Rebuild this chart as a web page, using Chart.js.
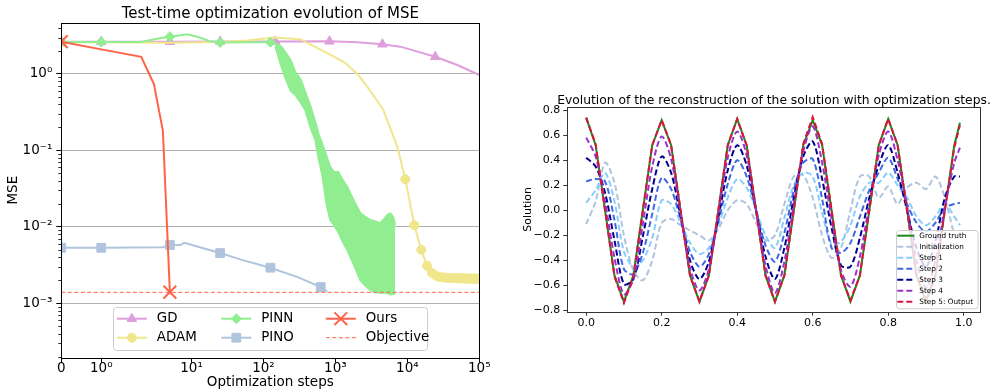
<!DOCTYPE html>
<html>
<head>
<meta charset="utf-8">
<script src="https://cdn.jsdelivr.net/npm/chart.js@4.4.0/dist/chart.umd.min.js"></script>
<style>
html,body{margin:0;padding:0;background:#fff;}
#wrap{position:relative;width:990px;height:391px;}
.box{position:absolute;top:0;width:495px;height:391px;}
#left{left:0}
#right{left:495px}
</style>
</head>
<body>
<div id="wrap">
 <div class="box" id="left"><canvas id="mse"></canvas></div>
 <div class="box" id="right"><canvas id="sol"></canvas></div>
</div>
<script>
// ===== LEFT: MSE vs optimization steps =====
const stepTicks=[0,1,10,100,1000,10000,100000];
const stepTickLabels=["0","10⁰","10¹","10²","10³","10⁴","10⁵"];
const mseTicks=[1e-3,1e-2,1e-1,1];
const mseTickLabels=["10⁻³","10⁻²","10⁻¹","10⁰"];

const gdSteps=[0,1,5,25,146,826,2000,4500,7980,24440,49440,100000];
const gdMse=[2.65,2.65,2.65,2.66,2.67,2.68,2.6,2.45,2.28,1.68,1.31,0.97];
const gdMarks=[0,1,2,3,4,5,7,9];

const adamSteps=[0,1,5,25,60,137,325,771,1371,2080,3055,4622,7245,
 9375,12500,15625,18750,21875,25000,28125,31250,34375,37500,
 40625,43750,46875,50000,53125,56250,59375,62500,65625,68750,
 71875,75000,78125,81250,84375,87500,90625,93750,96875,100000];
const adamMse=[2.6,2.6,2.57,2.62,2.75,3.0,2.85,1.87,1.4,0.97,0.6,0.34,0.112,
 0.042,0.0105,0.0050,0.0031,0.0025,0.0023,0.0022,0.00218,0.00216,0.00215,
 0.00214,0.00213,0.00213,0.00212,0.00212,0.00212,0.00211,0.00211,0.00211,0.00211,
 0.0021,0.0021,0.0021,0.0021,0.0021,0.0021,0.0021,0.0021,0.0021,0.0021];
const adamMarks=[0,13,14,15,16,17,18,19,20,21,22,23,24,25,26,27,28,29,30,31,32,33,34,35,36,37,38,39,40,41,42];

const pinnSteps=[0,1,2,3.3,5,8.7,13,18,25,50,125,146];
const pinnMse=[2.62,2.62,2.62,2.9,3.08,3.3,3.0,2.68,2.58,2.6,2.6,2.5];
const pinnMarks=[0,1,4,8,10];
const pinnBandSteps=[146,175,201,240,277,330,381,450,525,590,657,750,849,960,1096,1250,1462,1800,2218,2600,3055,3600,4206,4700,5260,5800,6370,6790];
const pinnBandHigh=[2.5,2.3,1.94,1.5,1.06,0.85,0.581,0.38,0.235,0.16,0.121,0.085,0.0607,0.052,0.0521,0.042,0.0332,0.022,0.0152,0.0135,0.0123,0.0118,0.0112,0.0125,0.0143,0.0150,0.0134,0.0106];
const pinnBandLow=[2.3,1.3,0.886,0.6,0.531,0.42,0.338,0.2,0.137,0.075,0.0477,0.02,0.0123,0.0105,0.00855,0.0065,0.00497,0.0032,0.00201,0.0017,0.00149,0.0014,0.00136,0.00138,0.00136,0.0013,0.00132,0.00136];

const pinoSteps=[0,1,4,5,7,8,13,25,50,125,300,625,771];
const pinoMse=[0.00532,0.00532,0.0054,0.00578,0.0058,0.0062,0.0054,0.00454,0.0037,0.00292,0.0022,0.00163,0.00142];
const pinoMarks=[0,1,3,7,9,11];

const oursSteps=[0,1,2,3,4,5];
const oursMse=[2.65,2.1,1.68,0.74,0.18,0.0014];
const oursMarks=[0,5];

const objectiveSteps=[0,100000];
const objectiveMse=[0.00139,0.00139];

// ===== RIGHT: reconstruction of the solution =====
const solXTicks=[0,0.2,0.4,0.6,0.8,1.0];
const solXLabels=["0.0","0.2","0.4","0.6","0.8","1.0"];
const solYTicks=[-0.8,-0.6,-0.4,-0.2,0,0.2,0.4,0.6,0.8];
const solYLabels=["−0.8","−0.6","−0.4","−0.2","0.0","0.2","0.4","0.6","0.8"];

const xPos=[0,0.025,0.05,0.075,0.1,0.125,0.15,0.175,0.2,0.225,0.25,0.275,0.3,0.325,0.35,0.375,0.4,0.425,0.45,0.475,
 0.5,0.525,0.55,0.575,0.6,0.625,0.65,0.675,0.7,0.725,0.75,0.775,0.8,0.825,0.85,0.875,0.9,0.925,0.95,0.975,0.99];
const groundTruth=[0.74,0.52,0.0,-0.52,-0.73,-0.52,0.0,0.52,0.72,0.52,0.0,-0.52,-0.73,-0.52,0.0,0.52,0.73,0.52,0.0,-0.52,
 -0.73,-0.52,0.0,0.52,0.72,0.52,0.0,-0.52,-0.73,-0.52,0.0,0.52,0.73,0.52,0.0,-0.52,-0.73,-0.52,0.0,0.52,0.70];
const initialization=[-0.11,0.07,0.38,0.22,-0.20,-0.48,-0.56,-0.40,-0.10,-0.07,-0.12,-0.16,-0.20,-0.24,-0.15,0.00,0.08,0.05,-0.10,-0.24,
 -0.20,0.05,0.27,0.28,0.10,-0.20,-0.38,-0.30,0.00,0.27,0.27,0.10,0.19,0.05,0.18,0.22,0.17,0.27,0.10,-0.20,-0.35];
const step1=[0.06,0.16,0.30,0.07,-0.33,-0.45,-0.40,-0.22,0.08,0.05,-0.10,-0.26,-0.35,-0.30,-0.12,0.10,0.25,0.18,0.00,-0.20,
 -0.30,-0.06,0.20,0.30,0.27,-0.02,-0.27,-0.25,-0.12,0.11,0.22,0.22,0.30,0.20,0.10,-0.05,-0.12,-0.05,0.05,-0.05,-0.12];
const step2=[0.23,0.25,0.23,-0.08,-0.47,-0.51,-0.34,-0.03,0.26,0.17,-0.07,-0.33,-0.45,-0.35,-0.09,0.21,0.40,0.27,0.00,-0.28,
 -0.41,-0.18,0.16,0.38,0.41,0.09,-0.30,-0.34,-0.26,-0.05,0.16,0.30,0.42,0.25,0.05,-0.10,-0.17,-0.10,0.02,0.05,0.06];
const step3=[0.42,0.35,0.14,-0.24,-0.59,-0.55,-0.21,0.17,0.43,0.30,-0.05,-0.40,-0.55,-0.41,-0.06,0.32,0.52,0.36,0.00,-0.37,
 -0.55,-0.30,0.10,0.43,0.55,0.25,-0.14,-0.44,-0.45,-0.22,0.10,0.36,0.52,0.30,0.00,-0.30,-0.45,-0.25,0.10,0.27,0.27];
const step4=[0.58,0.43,0.07,-0.38,-0.67,-0.55,-0.11,0.35,0.59,0.41,-0.02,-0.46,-0.64,-0.47,-0.03,0.42,0.63,0.44,0.00,-0.44,
 -0.66,-0.41,0.05,0.47,0.67,0.38,-0.07,-0.48,-0.61,-0.37,0.05,0.44,0.63,0.40,0.03,-0.40,-0.62,-0.40,0.02,0.38,0.50];
const step5=[0.74,0.53,0.0,-0.53,-0.74,-0.53,0.0,0.52,0.72,0.52,0.0,-0.52,-0.73,-0.52,0.0,0.52,0.73,0.52,0.0,-0.52,
 -0.73,-0.52,0.0,0.53,0.745,0.53,0.0,-0.52,-0.72,-0.52,0.0,0.52,0.73,0.52,0.0,-0.52,-0.72,-0.52,0.0,0.50,0.68];

// ===== helpers =====
Chart.defaults.font.family="'DejaVu Sans', sans-serif";
Chart.defaults.color="#000";

const pts=(xs,ys)=>xs.map((x,i)=>({x:x,y:ys[i]}));
const marks=(idx,r)=>c=>idx.includes(c.dataIndex)?r:0;

// symlog x axis (linthresh 2, linscale 1)
const LT=2, LS=1/(1-1/10);
const symlog=v=>v<=LT?v/LT*LS:LS+Math.log10(v/LT);
const symexp=u=>u<=LS?u/LS*LT:LT*Math.pow(10,u-LS);
class SymlogScale extends Chart.Scale{
 determineDataLimits(){this.min=this.options.min;this.max=this.options.max;}
 buildTicks(){return stepTicks.map(v=>({value:v}));}
 getLabelForValue(v){return String(v);}
 configure(){super.configure();this._u0=symlog(this.min);this._du=symlog(this.max)-this._u0;}
 getPixelForValue(v){return this.getPixelForDecimal((symlog(v)-this._u0)/this._du);}
 getValueForPixel(p){return symexp(this.getDecimalForPixel(p)*this._du+this._u0);}
}
SymlogScale.id="symlog";
SymlogScale.defaults={};
Chart.register(SymlogScale);

function shape(ctx,style,r,x,y,bw){
 if(Chart.helpers&&Chart.helpers.drawPoint){
  Chart.helpers.drawPoint(ctx,{pointStyle:style,radius:r,rotation:0,borderWidth:bw},x,y);
 }
}

// title centred over the plot area, like matplotlib
const areaTitle={
 id:"areaTitle",
 afterDraw(c,a,o){
  if(!o.text) return;
  const ca=c.chartArea, ctx=c.ctx;
  ctx.save();
  ctx.font=o.font;ctx.fillStyle="#000";ctx.textAlign="center";ctx.textBaseline="alphabetic";
  ctx.fillText(o.text,(ca.left+ca.right)/2,o.baseline);
  ctx.restore();
 }
};

const frame={
 id:"frame",
 afterDatasetsDraw(c,a,o){
  const {left,top,right,bottom}=c.chartArea, ctx=c.ctx;
  ctx.save();
  ctx.strokeStyle=o.color||"#000";ctx.lineWidth=1;
  ctx.strokeRect(Math.round(left)+0.5,Math.round(top)+0.5,Math.round(right-left),Math.round(bottom-top));
  ctx.restore();
 }
};

const minorTicks={
 id:"minorTicks",
 afterDraw(c,a,o){
  if(!o.on) return;
  const s=c.scales.y, ctx=c.ctx;
  ctx.save();ctx.strokeStyle="#000";ctx.lineWidth=0.8;
  [1e-4,1e-3,1e-2,1e-1,1].forEach(d=>{
   for(let m=2;m<=9;m++){
    const v=d*m;
    if(v<s.min||v>s.max) continue;
    const y=Math.round(s.getPixelForValue(v))+0.5;
    ctx.beginPath();ctx.moveTo(s.right-3,y);ctx.lineTo(s.right,y);ctx.stroke();
   }
  });
  ctx.restore();
 }
};

const boxLegend={
 id:"boxLegend",
 afterDraw(c,a,o){
  if(!o.entries) return;
  const ctx=c.ctx, ca=c.chartArea;
  const bx=o.anchor==="bottomCenter"?(ca.left+ca.right)/2-o.w/2:ca.right-o.gap-o.w;
  const by=ca.bottom-o.gap-o.h;
  ctx.save();
  ctx.beginPath();
  ctx.roundRect(Math.round(bx)+0.5,Math.round(by)+0.5,o.w,o.h,3);
  ctx.fillStyle="rgba(255,255,255,0.8)";ctx.fill();
  ctx.strokeStyle="#cccccc";ctx.lineWidth=1;ctx.stroke();
  o.entries.forEach((e,i)=>{
   const col=Math.floor(i/o.rows), row=i%o.rows;
   const hx=bx+o.pad+col*o.colW, hy=by+o.top+row*o.rowH;
   ctx.strokeStyle=e.color;ctx.lineWidth=e.width;ctx.setLineDash(e.dash||[]);
   ctx.beginPath();ctx.moveTo(hx,hy);ctx.lineTo(hx+o.handle,hy);ctx.stroke();
   ctx.setLineDash([]);
   if(e.pointStyle){
    ctx.fillStyle=e.color;ctx.strokeStyle=e.color;ctx.lineWidth=e.pointBorder||1;
    shape(ctx,e.pointStyle,e.radius,hx+o.handle/2,hy,e.pointBorder||1);
   }
   ctx.fillStyle="#000";ctx.font=o.font;ctx.textBaseline="middle";ctx.textAlign="left";
   ctx.fillText(e.label,hx+o.textOff,hy);
  });
  ctx.restore();
 }
};

// ===== left chart =====
const GD="#DDA0DD", ADAM="#F0E68C", PINN="#90EE90", PINO="#B0C4DE", OURS="#FF6347";
const line=(label,xs,ys,color,extra)=>Object.assign({label:label,data:pts(xs,ys),borderColor:color,backgroundColor:color,
 pointBorderColor:color,pointBackgroundColor:color,borderWidth:2,pointRadius:0,pointBorderWidth:1,fill:false,tension:0,clip:0},extra||{});

const mseData=[
 line("GD",gdSteps,gdMse,GD,{pointStyle:"triangle",pointRadius:marks(gdMarks,5.5),order:9}),
 line("ADAM",adamSteps,adamMse,ADAM,{pointStyle:"circle",pointRadius:marks(adamMarks,4.5),order:8}),
 line("PINN",pinnSteps,pinnMse,PINN,{pointStyle:"rectRot",pointRadius:marks(pinnMarks,5),order:7}),
 line("",pinnBandSteps,pinnBandHigh,PINN,{order:6}),
 line("",pinnBandSteps,pinnBandLow,PINN,{fill:"-1",order:5}),
 line("PINO",pinoSteps,pinoMse,PINO,{pointStyle:"rect",pointRadius:marks(pinoMarks,6.2),order:4}),
 line("Ours",oursSteps,oursMse,OURS,{pointStyle:"crossRot",pointRadius:marks(oursMarks,9),pointBorderWidth:2,order:3}),
 line("Objective",objectiveSteps,objectiveMse,OURS,{borderWidth:1,borderDash:[4,2.5],order:2})
];

new Chart(document.getElementById("mse"),{
 type:"line",
 data:{datasets:mseData},
 plugins:[frame,minorTicks,boxLegend,areaTitle],
 options:{
  responsive:true,maintainAspectRatio:false,animation:false,devicePixelRatio:1,
  events:[],
  layout:{padding:{left:0,right:15.7,top:22.7,bottom:0}},
  plugins:{
   legend:{display:false},tooltip:{enabled:false},title:{display:false},
   areaTitle:{text:"Test-time optimization evolution of MSE",font:"15px 'DejaVu Sans'",baseline:17.5},
   frame:{color:"#000"},
   minorTicks:{on:true},
   boxLegend:{
    anchor:"bottomCenter",w:314,h:43,gap:7.5,rows:2,colW:104.5,rowH:19,top:11.5,pad:3.5,handle:30,textOff:40,
    font:"13.4px 'DejaVu Sans'",
    entries:[
     {label:"GD",color:GD,width:2,pointStyle:"triangle",radius:5.5},
     {label:"ADAM",color:ADAM,width:2,pointStyle:"circle",radius:4.5},
     {label:"PINN",color:PINN,width:2,pointStyle:"rectRot",radius:5},
     {label:"PINO",color:PINO,width:2,pointStyle:"rect",radius:6.2},
     {label:"Ours",color:OURS,width:2,pointStyle:"crossRot",radius:9,pointBorder:2},
     {label:"Objective",color:OURS,width:1,dash:[4,2.5]}
    ]
   }
  },
  scales:{
   x:{type:"symlog",min:0,max:100000,
    grid:{display:true,drawOnChartArea:false,drawTicks:true,tickLength:5,tickColor:"#000"},
    border:{display:false},
    ticks:{font:{size:13.5},padding:-2,maxRotation:0,autoSkip:false,callback:(v,i)=>stepTickLabels[i]},
    title:{display:true,text:"Optimization steps",font:{size:13.5},padding:{top:0,bottom:0}},
    afterFit:s=>{s.height=33.3;}
   },
   y:{type:"logarithmic",min:1.94e-4,max:4.69,
    afterBuildTicks:s=>{s.ticks=mseTicks.map(v=>({value:v}));},
    grid:{color:"#b0b0b0",lineWidth:1,drawTicks:true,tickLength:5,tickColor:"#000"},
    border:{display:false},
    ticks:{font:{size:13.5},padding:4,autoSkip:false,callback:(v,i)=>mseTickLabels[i]},
    title:{display:true,text:"MSE",font:{size:13.5},padding:{top:5.5,bottom:0}},
    afterFit:s=>{s.width=61.3;}
   }
  }
 }
});

// ===== right chart =====
const dashed=(label,ys,color,order)=>({label:label,data:pts(xPos,ys),borderColor:color,backgroundColor:color,
 borderWidth:2,borderDash:[6,3],pointRadius:0,fill:false,tension:0.3,order:order});

const solData=[
 {label:"Ground truth",data:pts(xPos,groundTruth),borderColor:"#1a8a1a",borderWidth:2,pointRadius:0,fill:false,tension:0,order:9},
 dashed("Initialization",initialization,"#B0C4DE",8),
 dashed("Step 1",step1,"#87CEFA",7),
 dashed("Step 2",step2,"#4169E1",6),
 dashed("Step 3",step3,"#00008B",5),
 dashed("Step 4",step4,"#9932CC",4),
 Object.assign(dashed("Step 5: Output",step5,"#DC143C",3),{tension:0})
];

new Chart(document.getElementById("sol"),{
 type:"line",
 data:{datasets:solData},
 plugins:[frame,boxLegend,areaTitle],
 options:{
  responsive:true,maintainAspectRatio:false,animation:false,devicePixelRatio:1,
  events:[],
  layout:{padding:{left:0,right:9.3,top:107,bottom:0}},
  plugins:{
   legend:{display:false},tooltip:{enabled:false},title:{display:false},
   areaTitle:{text:"Evolution of the reconstruction of the solution with optimization steps.",font:"12.3px 'DejaVu Sans'",baseline:104},
   frame:{color:"#333"},
   boxLegend:{
    anchor:"bottomRight",w:81.6,h:78.3,gap:3.4,rows:7,colW:0,rowH:11,top:5.7,pad:1.6,handle:17,textOff:22,
    font:"7.3px 'DejaVu Sans'",
    entries:solData.map(d=>({label:d.label,color:d.borderColor,width:2,dash:d.borderDash}))
   }
  },
  scales:{
   x:{type:"linear",min:-0.05,max:1.045,
    afterBuildTicks:s=>{s.ticks=solXTicks.map(v=>({value:v}));},
    grid:{display:true,drawOnChartArea:false,drawTicks:true,tickLength:4,tickColor:"#333"},
    border:{display:false},
    ticks:{font:{size:11},padding:0.5,maxRotation:0,autoSkip:false,callback:(v,i)=>solXLabels[i]},
    afterFit:s=>{s.height=79.3;}
   },
   y:{type:"linear",min:-0.81,max:0.825,
    afterBuildTicks:s=>{s.ticks=solYTicks.map(v=>({value:v}));},
    grid:{display:true,drawOnChartArea:false,drawTicks:true,tickLength:4,tickColor:"#333"},
    border:{display:false},
    ticks:{font:{size:11},padding:3,autoSkip:false,callback:(v,i)=>solYLabels[i]},
    title:{display:true,text:"Solution",font:{size:11},padding:{top:26.4,bottom:0}},
    afterFit:s=>{s.width=72.3;}
   }
  }
 }
});
</script>
</body>
</html>
